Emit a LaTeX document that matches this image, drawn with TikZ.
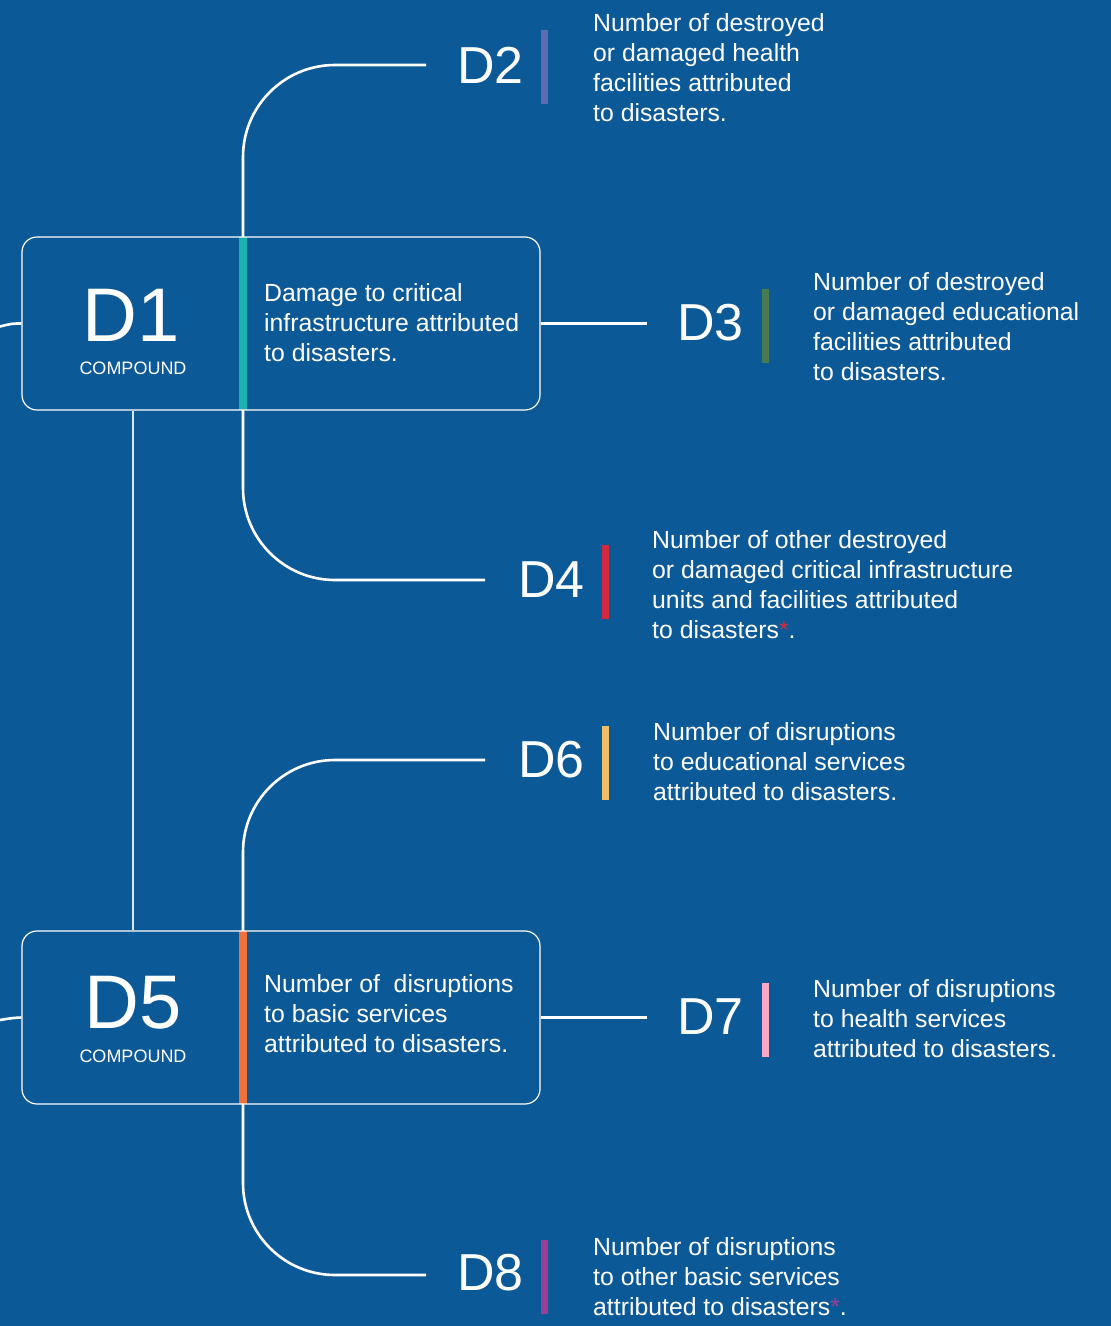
\documentclass[tikz,border=0pt]{standalone}
\usepackage{fontspec}
\setmainfont{Liberation Sans}
\definecolor{bg}{HTML}{0C5997}
\definecolor{cteal}{HTML}{1AB2AC}
\definecolor{corange}{HTML}{F07139}
\definecolor{cdtwo}{HTML}{5D6DB2}
\definecolor{cdthree}{HTML}{4A7A50}
\definecolor{cdfour}{HTML}{D12A3E}
\definecolor{cdsix}{HTML}{F4BE69}
\definecolor{cdseven}{HTML}{F6A9C3}
\definecolor{cdeight}{HTML}{9C3F96}
\tikzset{
  conn/.style={draw=white, line width=2.6pt},
  thinconn/.style={draw=white!85!bg, line width=1.3pt},
  box/.style={draw=white, line width=1.2pt, rounded corners=15pt, minimum width=518pt, minimum height=173pt, inner sep=0pt},
  stripe/.style={inner sep=0pt, minimum width=8pt, minimum height=173pt},
  tag/.style={inner sep=0pt, minimum width=7pt, minimum height=74pt},
  code/.style={font=\fontsize{52}{52}\selectfont, text=white, inner sep=0pt, anchor=west},
  bigcode/.style={font=\fontsize{76}{76}\selectfont, text=white, inner sep=0pt},
  comp/.style={font=\fontsize{18}{18}\selectfont, text=white, inner sep=0pt},
  desc/.style={font=\fontsize{24.8}{30}\selectfont, text=white, inner sep=0pt, anchor=north west, align=left},
}
\begin{document}
\begin{tikzpicture}[x=1pt,y=-1pt]
\fill[bg] (0,0) rectangle (1111,1326);
\useasboundingbox (0,0) rectangle (1111,1326);

% stripes in boxes
\node[stripe, fill=cteal] (s1) at (243,323.5) {};
\node[stripe, fill=corange] (s5) at (243,1017.5) {};
% boxes
\node[box] (b1) at (281,323.5) {};
\node[box] (b5) at (281,1017.5) {};

% box contents
\node[bigcode] (d1) at (131,315) {D1};
\node[comp] (k1) at (133,368) {COMPOUND};
\node[desc] (t1) at (264,283.5) {Damage to critical\\infrastructure attributed\\to disasters.};
\node[bigcode] (d5) at (133,1003) {D5};
\node[comp] (k5) at (133,1056) {COMPOUND};
\node[desc] (t5) at (264,974.5) {Number of\ \ disruptions\\to basic services\\attributed to disasters.};

% leaves
\node[code] (d2) at (457,65) {D2};
\node[tag, fill=cdtwo] (g2) at (544.5,66.5) {};
\node[desc] (t2) at (593,13.5) {Number of destroyed\\or damaged health\\facilities attributed\\to disasters.};

\node[code] (d3) at (677,323) {D3};
\node[tag, fill=cdthree] (g3) at (765.5,325.5) {};
\node[desc] (t3) at (813,272.5) {Number of destroyed\\or damaged educational\\facilities attributed\\to disasters.};

\node[code] (d4) at (518,580) {D4};
\node[tag, fill=cdfour] (g4) at (605.5,582) {};
\node[desc] (t4) at (652,530.5) {Number of other destroyed\\or damaged critical infrastructure\\units and facilities attributed\\to disasters{\color{cdfour}*}.};

\node[code] (d6) at (518,760) {D6};
\node[tag, fill=cdsix] (g6) at (605.5,763) {};
\node[desc] (t6) at (653,722.5) {Number of disruptions\\to educational services\\attributed to disasters.};

\node[code] (d7) at (677,1017) {D7};
\node[tag, fill=cdseven] (g7) at (765.5,1019.5) {};
\node[desc] (t7) at (813,979.5) {Number of disruptions\\to health services\\attributed to disasters.};

\node[code] (d8) at (457,1273) {D8};
\node[tag, fill=cdeight] (g8) at (544.5,1276.5) {};
\node[desc] (t8) at (593,1237.5) {Number of disruptions\\to other basic services\\attributed to disasters{\color{cdeight}*}.};

% connector ends
\coordinate (c2) at (426,65);
\coordinate (c3) at (647,323.5);
\coordinate (c4) at (485,580);
\coordinate (c6) at (485,760);
\coordinate (c7) at (647,1017.5);
\coordinate (c8) at (426,1275);
\coordinate (v) at (133,0);
\coordinate (e1) at (0,326.5);
\coordinate (e5) at (0,1020);

\draw[conn, rounded corners=92pt] (s1.north) |- (c2);
\draw[conn, rounded corners=92pt] (s1.south) |- (c4);
\draw[conn] (b1.east) -- (c3);
\draw[conn, rounded corners=92pt] (s5.north) |- (c6);
\draw[conn, rounded corners=92pt] (s5.south) |- (c8);
\draw[conn] (b5.east) -- (c7);
\draw[thinconn] (b1.south -| v) -- (b5.north -| v);
\draw[conn] (b1.west) .. controls (12,323.5) .. (e1);
\draw[conn] (b5.west) .. controls (12,1018) .. (e5);
\end{tikzpicture}
\end{document}
